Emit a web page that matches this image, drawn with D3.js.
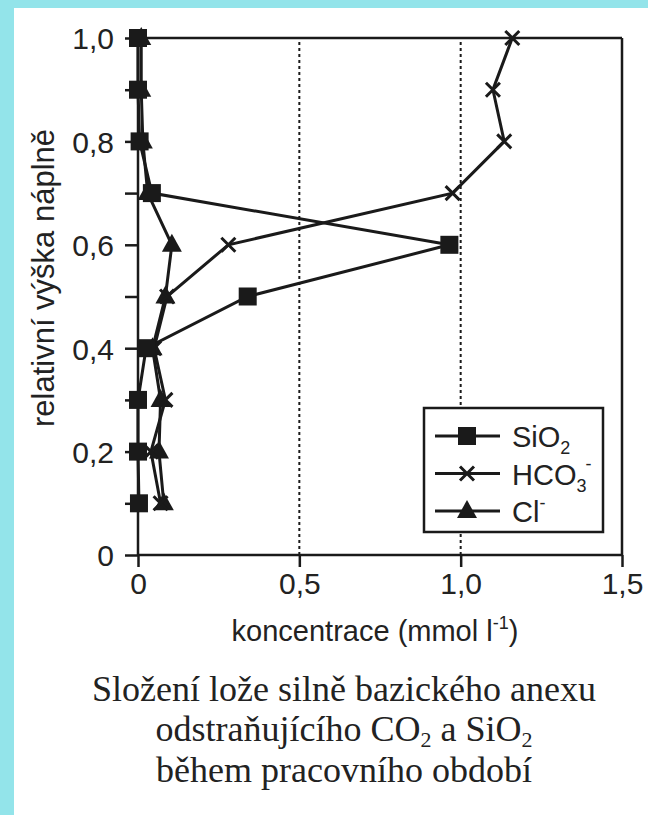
<!DOCTYPE html>
<html><head><meta charset="utf-8">
<script src="https://cdn.jsdelivr.net/npm/d3@7"></script>
<style>html,body{margin:0;padding:0;background:#fff}</style>
</head><body>
<script>
const heights = [1.0, 0.9, 0.8, 0.7, 0.6, 0.5, 0.4, 0.3, 0.2, 0.1];
const sio2 = [0.0, 0.0, 0.005, 0.043, 0.965, 0.34, 0.025, 0.0, 0.0, 0.003];
const hco3 = [1.16, 1.10, 1.135, 0.975, 0.28, 0.09, 0.05, 0.085, 0.04, 0.07];
const cl = [0.01, 0.01, 0.015, 0.03, 0.105, 0.085, 0.045, 0.07, 0.065, 0.08];
const xTicks = [0, 0.5, 1.0, 1.5];
const xTickLabels = ["0", "0,5", "1,0", "1,5"];
const yTicks = [0, 0.1, 0.2, 0.3, 0.4, 0.5, 0.6, 0.7, 0.8, 0.9, 1.0];
const yTickLabels = {0: "0", 0.2: "0,2", 0.4: "0,4", 0.6: "0,6", 0.8: "0,8", 1.0: "1,0"};
const gridX = [0.5, 1.0];

const W = 648, H = 815;
const svg = d3.select("body").append("svg").attr("width", W).attr("height", H)
  .style("display", "block");
svg.append("rect").attr("width", W).attr("height", H).attr("fill", "#93e4ea");
svg.append("rect").attr("x", 14).attr("y", 8).attr("width", W - 14).attr("height", H - 8).attr("fill", "#fff");

const x = d3.scaleLinear().domain([0, 1.5]).range([138, 622]);
const y = d3.scaleLinear().domain([0, 1.0]).range([555, 38]);
const ink = "#1a1a1a";
const sans = "'Liberation Sans', Arial, sans-serif";
const serif = "'Liberation Serif', 'Times New Roman', serif";

// grid
svg.selectAll("line.grid").data(gridX).enter().append("line")
  .attr("x1", d => x(d)).attr("x2", d => x(d)).attr("y1", y(0)).attr("y2", y(1))
  .attr("stroke", ink).attr("stroke-width", 2).attr("stroke-dasharray", "3,3");

// frame top/right
svg.append("line").attr("x1", x(0)).attr("x2", x(1.5)).attr("y1", y(1)).attr("y2", y(1))
  .attr("stroke", ink).attr("stroke-width", 2.5);
svg.append("line").attr("x1", x(1.5)).attr("x2", x(1.5)).attr("y1", y(1)).attr("y2", y(0))
  .attr("stroke", ink).attr("stroke-width", 2.5);

// axes
const xAxis = d3.axisBottom(x).tickValues(xTicks).tickSize(12).tickPadding(6)
  .tickFormat((d, i) => xTickLabels[i]);
const gx = svg.append("g").attr("transform", `translate(0,${y(0)})`).call(xAxis);
const yAxis = d3.axisLeft(y).tickValues(yTicks).tickSize(13).tickPadding(11)
  .tickFormat(d => yTickLabels[Math.round(d * 10) / 10] || "");
const gy = svg.append("g").attr("transform", `translate(${x(0)},0)`).call(yAxis);
[gx, gy].forEach(g => {
  g.select(".domain").attr("stroke", ink).attr("stroke-width", 2.5);
  g.selectAll(".tick line").attr("stroke", ink).attr("stroke-width", 2.5);
  g.selectAll(".tick text").attr("fill", "#222").style("font-family", sans).style("font-size", "30px");
});
gx.select(".domain").attr("d", `M${x(0)},0H${x(1.5)}`);
gy.select(".domain").attr("d", `M0,${y(0)}V${y(1)}`);
gx.selectAll(".tick text").attr("dy", "0.71em");
gy.selectAll(".tick text").attr("dy", "0.36em");

// axis titles
const xt = svg.append("text").attr("x", 375).attr("y", 641).attr("text-anchor", "middle")
  .style("font-family", sans).style("font-size", "29px").attr("fill", "#222");
xt.append("tspan").text("koncentrace (mmol l");
xt.append("tspan").text("-1").style("font-size", "18px").attr("dy", -12);
xt.append("tspan").text(")").attr("dy", 12);

svg.append("text").attr("transform", "translate(54,278) rotate(-90)").attr("text-anchor", "middle")
  .style("font-family", sans).style("font-size", "31px").attr("fill", "#222")
  .text("relativní výška náplně");

// series
const series = [
  {name: "Cl", values: cl, marker: "tri"},
  {name: "HCO3", values: hco3, marker: "x"},
  {name: "SiO2", values: sio2, marker: "sq"}
];
const line = d3.line().x(d => x(d[0])).y(d => y(d[1]));

function drawMarker(g, type, cx, cy) {
  if (type === "sq") {
    g.append("rect").attr("x", cx - 9).attr("y", cy - 9).attr("width", 18).attr("height", 18).attr("fill", ink);
  } else if (type === "tri") {
    g.append("path").attr("d", `M${cx},${cy - 11}L${cx + 10},${cy + 7}L${cx - 10},${cy + 7}Z`).attr("fill", ink);
  } else {
    g.append("path").attr("d", `M${cx - 7},${cy - 7}L${cx + 7},${cy + 7}M${cx - 7},${cy + 7}L${cx + 7},${cy - 7}`)
      .attr("stroke", ink).attr("stroke-width", 3);
  }
}

series.forEach(s => {
  const pts = s.values.map((v, i) => [v, heights[i]]);
  svg.append("path").attr("d", line(pts)).attr("fill", "none").attr("stroke", ink).attr("stroke-width", 3);
});
series.forEach(s => {
  const g = svg.append("g");
  s.values.forEach((v, i) => drawMarker(g, s.marker, x(v), y(heights[i])));
});

// legend
const lg = svg.append("g");
lg.append("rect").attr("x", 424).attr("y", 408).attr("width", 179).attr("height", 124)
  .attr("fill", "#fff").attr("stroke", ink).attr("stroke-width", 2.5);
const legRows = [
  {marker: "sq", main: "SiO", sub: "2", sup: ""},
  {marker: "x", main: "HCO", sub: "3", sup: "-"},
  {marker: "tri", main: "Cl", sub: "", sup: "-"}
];
legRows.forEach((r, i) => {
  const cy = 436 + i * 37.5;
  lg.append("line").attr("x1", 435).attr("x2", 500).attr("y1", cy).attr("y2", cy)
    .attr("stroke", ink).attr("stroke-width", 3);
  drawMarker(lg, r.marker, 467, cy);
  const t = lg.append("text").attr("x", 512).attr("y", cy + 11)
    .style("font-family", sans).style("font-size", "29px").attr("fill", "#222");
  t.append("tspan").text(r.main);
  if (r.sub && r.sup) {
    t.append("tspan").text(r.sub).style("font-size", "18px").attr("dy", 7);
    t.append("tspan").text(r.sup).style("font-size", "18px").attr("dx", -1).attr("dy", -22);
  } else if (r.sub) {
    t.append("tspan").text(r.sub).style("font-size", "18px").attr("dy", 7);
  } else if (r.sup) {
    t.append("tspan").text(r.sup).style("font-size", "18px").attr("dy", -13);
  }
});

// caption
const cap = svg.append("g").style("font-family", serif).style("font-size", "36px").attr("fill", "#222")
  .attr("text-anchor", "middle");
cap.append("text").attr("x", 344).attr("y", 701).text("Složení lože silně bazického anexu");
const c2 = cap.append("text").attr("x", 344).attr("y", 741);
c2.append("tspan").text("odstraňujícího CO");
c2.append("tspan").text("2").style("font-size", "22px").attr("dy", 6);
c2.append("tspan").text(" a SiO").attr("dy", -6);
c2.append("tspan").text("2").style("font-size", "22px").attr("dy", 6);
cap.append("text").attr("x", 344).attr("y", 782).text("během pracovního období");
</script>
</body></html>
